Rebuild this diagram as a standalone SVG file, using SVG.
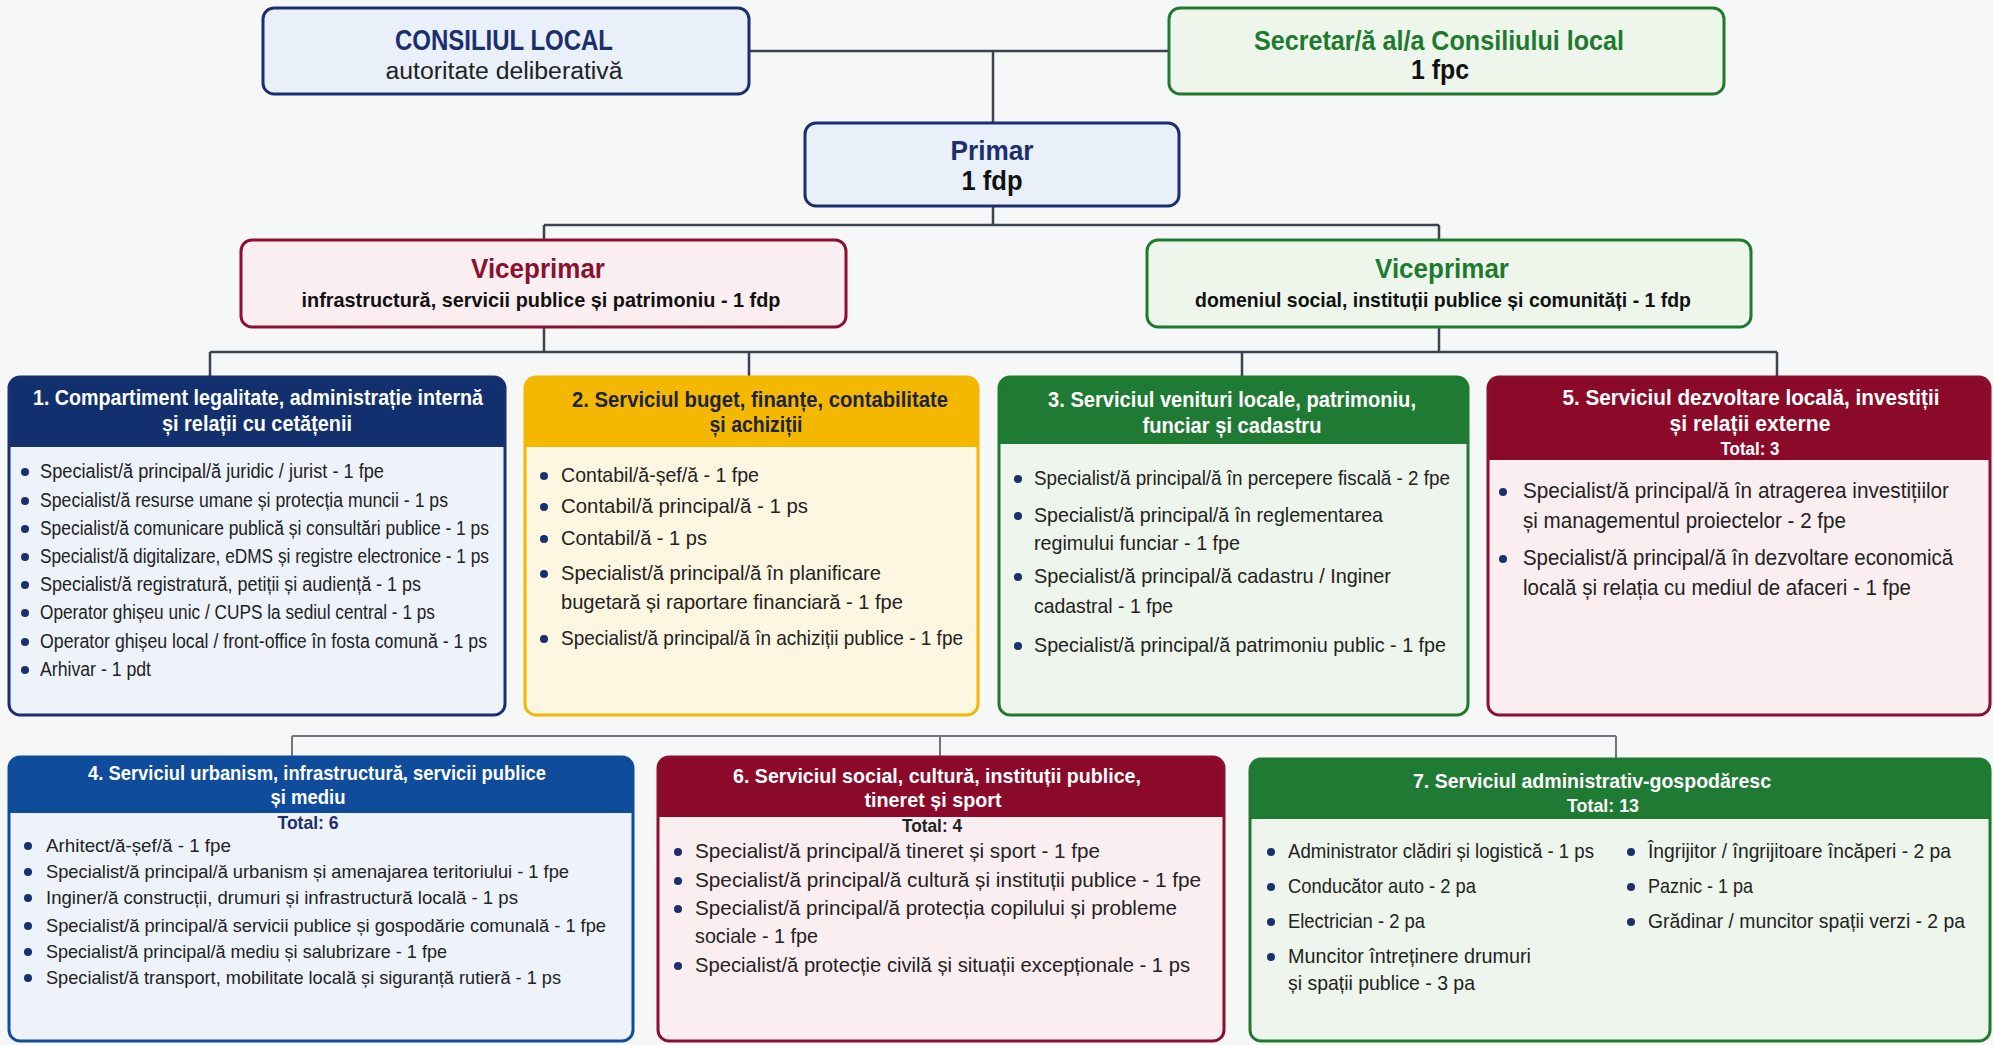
<svg xmlns="http://www.w3.org/2000/svg" width="1993" height="1045" viewBox="0 0 1993 1045">
<style>
text{font-family:"Liberation Sans",Arial,sans-serif;}
.ttl{font-weight:bold;text-anchor:middle;}
.hd{font-weight:bold;text-anchor:middle;font-size:22px;fill:#fff;}
.tot{font-weight:bold;text-anchor:middle;font-size:19px;}
.it{fill:#222;}
.bl{fill:#1b2f6e;}
.con{fill:none;stroke:#3b4250;stroke-width:2.5;}
.con2{fill:none;stroke:#70767f;stroke-width:2;}
.box{stroke-width:3;}
</style>
<rect x="0" y="0" width="1993" height="1045" fill="#f6f7f7"/>

<g id="connectors">
<path class="con" d="M749,51 H1169 M993,51 V123 M993,206 V225 M544,225 H1439 M544,225 V240 M1439,225 V240 M544,327 V352 M1439,327 V352 M210,352 H1777 M210,352 V377 M749,352 V377 M1242,352 V377 M1777,352 V377"/>
<path class="con2" d="M292,736 H1616 M292,736 V757 M940,736 V757 M1616,736 V759"/>
</g>

<g id="consiliul-local">
<rect class="box" x="263" y="8" width="486" height="86" rx="11" fill="#e9f0fa" stroke="#1b2f6e"/>
<text class="ttl" x="504" y="50" font-size="29" fill="#1b2f6e" textLength="218" lengthAdjust="spacingAndGlyphs">CONSILIUL LOCAL</text>
<text x="504" y="79" font-size="23" fill="#222" text-anchor="middle" textLength="237" lengthAdjust="spacingAndGlyphs">autoritate deliberativă</text>
</g>

<g id="secretar">
<rect class="box" x="1169" y="8" width="555" height="86" rx="11" fill="#eef6ec" stroke="#1f7a30"/>
<text class="ttl" x="1439" y="50" font-size="28" fill="#1f7a30" textLength="370" lengthAdjust="spacingAndGlyphs">Secretar/ă al/a Consiliului local</text>
<text class="ttl" x="1440" y="79" font-size="27" fill="#111" textLength="58" lengthAdjust="spacingAndGlyphs">1 fpc</text>
</g>

<g id="primar">
<rect class="box" x="805" y="123" width="374" height="83" rx="11" fill="#e9f0fa" stroke="#1b2f6e"/>
<text class="ttl" x="992" y="160" font-size="28" fill="#1b2f6e" textLength="83" lengthAdjust="spacingAndGlyphs">Primar</text>
<text class="ttl" x="992" y="190" font-size="28" fill="#111" textLength="61" lengthAdjust="spacingAndGlyphs">1 fdp</text>
</g>

<g id="viceprimar-1">
<rect class="box" x="241" y="240" width="605" height="87" rx="11" fill="#fbeef1" stroke="#8b1030"/>
<text class="ttl" x="538" y="278" font-size="28" fill="#8b1030" textLength="134" lengthAdjust="spacingAndGlyphs">Viceprimar</text>
<text class="ttl" x="541" y="307" font-size="21" fill="#111" textLength="479" lengthAdjust="spacingAndGlyphs">infrastructură, servicii publice și patrimoniu - 1 fdp</text>
</g>

<g id="viceprimar-2">
<rect class="box" x="1147" y="240" width="604" height="87" rx="11" fill="#eef6ec" stroke="#1f7a30"/>
<text class="ttl" x="1442" y="278" font-size="28" fill="#1f7a30" textLength="134" lengthAdjust="spacingAndGlyphs">Viceprimar</text>
<text class="ttl" x="1443" y="307" font-size="21" fill="#111" textLength="496" lengthAdjust="spacingAndGlyphs">domeniul social, instituții publice și comunități - 1 fdp</text>
</g>

<g id="s1">
<rect x="9" y="377" width="496" height="338" rx="11" fill="#eef3fb"/>
<path d="M9,447 V388 Q9,377 20,377 H494 Q505,377 505,388 V447 Z" fill="#12306e"/>
<rect class="box" x="9" y="377" width="496" height="338" rx="11" fill="none" stroke="#1b2f6e"/>
<text class="hd" x="258" y="405" textLength="450" lengthAdjust="spacingAndGlyphs">1. Compartiment legalitate, administrație internă</text>
<text class="hd" x="257" y="431" textLength="190" lengthAdjust="spacingAndGlyphs">și relații cu cetățenii</text>
<g class="bl"><circle cx="25" cy="472" r="4"/><circle cx="25" cy="501" r="4"/><circle cx="25" cy="529" r="4"/><circle cx="25" cy="557" r="4"/><circle cx="25" cy="585" r="4"/><circle cx="25" cy="613" r="4"/><circle cx="25" cy="642" r="4"/><circle cx="25" cy="670" r="4"/></g>
<g class="it" font-size="20">
<text x="40" y="478" textLength="344" lengthAdjust="spacingAndGlyphs">Specialist/ă principal/ă juridic / jurist - 1 fpe</text>
<text x="40" y="507" textLength="408" lengthAdjust="spacingAndGlyphs">Specialist/ă resurse umane și protecția muncii - 1 ps</text>
<text x="40" y="535" textLength="449" lengthAdjust="spacingAndGlyphs">Specialist/ă comunicare publică și consultări publice - 1 ps</text>
<text x="40" y="563" textLength="449" lengthAdjust="spacingAndGlyphs">Specialist/ă digitalizare, eDMS și registre electronice - 1 ps</text>
<text x="40" y="591" textLength="381" lengthAdjust="spacingAndGlyphs">Specialist/ă registratură, petiții și audiență - 1 ps</text>
<text x="40" y="619" textLength="395" lengthAdjust="spacingAndGlyphs">Operator ghișeu unic / CUPS la sediul central - 1 ps</text>
<text x="40" y="648" textLength="447" lengthAdjust="spacingAndGlyphs">Operator ghișeu local / front-office în fosta comună - 1 ps</text>
<text x="40" y="676" textLength="111" lengthAdjust="spacingAndGlyphs">Arhivar - 1 pdt</text>
</g>
</g>

<g id="s2">
<rect x="525" y="377" width="453" height="338" rx="11" fill="#fdf6e1"/>
<path d="M525,447 V388 Q525,377 536,377 H967 Q978,377 978,388 V447 Z" fill="#f5b800"/>
<rect class="box" x="525" y="377" width="453" height="338" rx="11" fill="none" stroke="#f2b705"/>
<text class="hd" x="760" y="407" style="fill:#1c2440" textLength="376" lengthAdjust="spacingAndGlyphs">2. Serviciul buget, finanțe, contabilitate</text>
<text class="hd" x="756" y="432" style="fill:#1c2440" textLength="93" lengthAdjust="spacingAndGlyphs">și achiziții</text>
<g class="bl"><circle cx="544" cy="476" r="4"/><circle cx="544" cy="507" r="4"/><circle cx="544" cy="539" r="4"/><circle cx="544" cy="574" r="4"/><circle cx="544" cy="639" r="4"/></g>
<g class="it" font-size="21">
<text x="561" y="482" textLength="198" lengthAdjust="spacingAndGlyphs">Contabil/ă-șef/ă - 1 fpe</text>
<text x="561" y="513" textLength="247" lengthAdjust="spacingAndGlyphs">Contabil/ă principal/ă - 1 ps</text>
<text x="561" y="545" textLength="146" lengthAdjust="spacingAndGlyphs">Contabil/ă - 1 ps</text>
<text x="561" y="580" textLength="320" lengthAdjust="spacingAndGlyphs">Specialist/ă principal/ă în planificare</text>
<text x="561" y="609" textLength="342" lengthAdjust="spacingAndGlyphs">bugetară și raportare financiară - 1 fpe</text>
<text x="561" y="645" textLength="402" lengthAdjust="spacingAndGlyphs">Specialist/ă principal/ă în achiziții publice - 1 fpe</text>
</g>
</g>

<g id="s3">
<rect x="999" y="377" width="469" height="338" rx="11" fill="#eef5ec"/>
<path d="M999,444 V388 Q999,377 1010,377 H1457 Q1468,377 1468,388 V444 Z" fill="#1f7a34"/>
<rect class="box" x="999" y="377" width="469" height="338" rx="11" fill="none" stroke="#1f7a30"/>
<text class="hd" x="1232" y="407" textLength="368" lengthAdjust="spacingAndGlyphs">3. Serviciul venituri locale, patrimoniu,</text>
<text class="hd" x="1232" y="433" textLength="179" lengthAdjust="spacingAndGlyphs">funciar și cadastru</text>
<g class="bl"><circle cx="1018" cy="479" r="4"/><circle cx="1018" cy="516" r="4"/><circle cx="1018" cy="577" r="4"/><circle cx="1018" cy="646" r="4"/></g>
<g class="it" font-size="21">
<text x="1034" y="485" textLength="416" lengthAdjust="spacingAndGlyphs">Specialist/ă principal/ă în percepere fiscală - 2 fpe</text>
<text x="1034" y="522" textLength="349" lengthAdjust="spacingAndGlyphs">Specialist/ă principal/ă în reglementarea</text>
<text x="1034" y="550" textLength="206" lengthAdjust="spacingAndGlyphs">regimului funciar - 1 fpe</text>
<text x="1034" y="583" textLength="357" lengthAdjust="spacingAndGlyphs">Specialist/ă principal/ă cadastru / Inginer</text>
<text x="1034" y="613" textLength="139" lengthAdjust="spacingAndGlyphs">cadastral - 1 fpe</text>
<text x="1034" y="652" textLength="412" lengthAdjust="spacingAndGlyphs">Specialist/ă principal/ă patrimoniu public - 1 fpe</text>
</g>
</g>

<g id="s5">
<rect x="1488" y="377" width="502" height="338" rx="11" fill="#fbeef1"/>
<path d="M1488,460 V388 Q1488,377 1499,377 H1979 Q1990,377 1990,388 V460 Z" fill="#8b0a2a"/>
<rect class="box" x="1488" y="377" width="502" height="338" rx="11" fill="none" stroke="#8b0f2e"/>
<text class="hd" x="1751" y="405" textLength="377" lengthAdjust="spacingAndGlyphs">5. Serviciul dezvoltare locală, investiții</text>
<text class="hd" x="1750" y="431" textLength="161" lengthAdjust="spacingAndGlyphs">și relații externe</text>
<text class="tot" x="1750" y="455" fill="#fff" textLength="59" lengthAdjust="spacingAndGlyphs">Total: 3</text>
<g class="bl"><circle cx="1503" cy="492" r="4"/><circle cx="1503" cy="559" r="4"/></g>
<g class="it" font-size="22">
<text x="1523" y="498" textLength="426" lengthAdjust="spacingAndGlyphs">Specialist/ă principal/ă în atragerea investițiilor</text>
<text x="1523" y="528" textLength="323" lengthAdjust="spacingAndGlyphs">și managementul proiectelor - 2 fpe</text>
<text x="1523" y="565" textLength="430" lengthAdjust="spacingAndGlyphs">Specialist/ă principal/ă în dezvoltare economică</text>
<text x="1523" y="595" textLength="388" lengthAdjust="spacingAndGlyphs">locală și relația cu mediul de afaceri - 1 fpe</text>
</g>
</g>

<g id="s4">
<rect x="9" y="757" width="624" height="284" rx="11" fill="#eef3fb"/>
<path d="M9,813 V768 Q9,757 20,757 H622 Q633,757 633,768 V813 Z" fill="#0f4c9c"/>
<rect class="box" x="9" y="757" width="624" height="284" rx="11" fill="none" stroke="#0f4c9c"/>
<text class="hd" x="317" y="780" style="font-size:21px" textLength="458" lengthAdjust="spacingAndGlyphs">4. Serviciul urbanism, infrastructură, servicii publice</text>
<text class="hd" x="308" y="804" style="font-size:21px" textLength="75" lengthAdjust="spacingAndGlyphs">și mediu</text>
<text class="tot" x="308" y="829" fill="#1b2f6e" textLength="61" lengthAdjust="spacingAndGlyphs">Total: 6</text>
<g class="bl"><circle cx="28" cy="846" r="4"/><circle cx="28" cy="872" r="4"/><circle cx="28" cy="898" r="4"/><circle cx="28" cy="926" r="4"/><circle cx="28" cy="952" r="4"/><circle cx="28" cy="978" r="4"/></g>
<g class="it" font-size="19">
<text x="46" y="852" textLength="185" lengthAdjust="spacingAndGlyphs">Arhitect/ă-șef/ă - 1 fpe</text>
<text x="46" y="878" textLength="523" lengthAdjust="spacingAndGlyphs">Specialist/ă principal/ă urbanism și amenajarea teritoriului - 1 fpe</text>
<text x="46" y="904" textLength="472" lengthAdjust="spacingAndGlyphs">Inginer/ă construcții, drumuri și infrastructură locală - 1 ps</text>
<text x="46" y="932" textLength="560" lengthAdjust="spacingAndGlyphs">Specialist/ă principal/ă servicii publice și gospodărie comunală - 1 fpe</text>
<text x="46" y="958" textLength="401" lengthAdjust="spacingAndGlyphs">Specialist/ă principal/ă mediu și salubrizare - 1 fpe</text>
<text x="46" y="984" textLength="515" lengthAdjust="spacingAndGlyphs">Specialist/ă transport, mobilitate locală și siguranță rutieră - 1 ps</text>
</g>
</g>

<g id="s6">
<rect x="658" y="757" width="566" height="284" rx="11" fill="#fbeef1"/>
<path d="M658,817 V768 Q658,757 669,757 H1213 Q1224,757 1224,768 V817 Z" fill="#8b0a2a"/>
<rect class="box" x="658" y="757" width="566" height="284" rx="11" fill="none" stroke="#8b0f2e"/>
<text class="hd" x="937" y="783" style="font-size:21px" textLength="408" lengthAdjust="spacingAndGlyphs">6. Serviciul social, cultură, instituții publice,</text>
<text class="hd" x="933" y="807" style="font-size:21px" textLength="137" lengthAdjust="spacingAndGlyphs">tineret și sport</text>
<text class="tot" x="932" y="832" fill="#222" textLength="60" lengthAdjust="spacingAndGlyphs">Total: 4</text>
<g class="bl"><circle cx="678" cy="852" r="4"/><circle cx="678" cy="881" r="4"/><circle cx="678" cy="909" r="4"/><circle cx="678" cy="966" r="4"/></g>
<g class="it" font-size="21">
<text x="695" y="858" textLength="405" lengthAdjust="spacingAndGlyphs">Specialist/ă principal/ă tineret și sport - 1 fpe</text>
<text x="695" y="887" textLength="506" lengthAdjust="spacingAndGlyphs">Specialist/ă principal/ă cultură și instituții publice - 1 fpe</text>
<text x="695" y="915" textLength="482" lengthAdjust="spacingAndGlyphs">Specialist/ă principal/ă protecția copilului și probleme</text>
<text x="695" y="943" textLength="123" lengthAdjust="spacingAndGlyphs">sociale - 1 fpe</text>
<text x="695" y="972" textLength="495" lengthAdjust="spacingAndGlyphs">Specialist/ă protecție civilă și situații excepționale - 1 ps</text>
</g>
</g>

<g id="s7">
<rect x="1250" y="759" width="740" height="282" rx="11" fill="#eef5ec"/>
<path d="M1250,819 V770 Q1250,759 1261,759 H1979 Q1990,759 1990,770 V819 Z" fill="#1f7a34"/>
<rect class="box" x="1250" y="759" width="740" height="282" rx="11" fill="none" stroke="#1f7a30"/>
<text class="hd" x="1592" y="788" style="font-size:21px" textLength="358" lengthAdjust="spacingAndGlyphs">7. Serviciul administrativ-gospodăresc</text>
<text class="tot" x="1603" y="812" fill="#fff" textLength="72" lengthAdjust="spacingAndGlyphs">Total: 13</text>
<g class="bl"><circle cx="1271" cy="852" r="4"/><circle cx="1271" cy="887" r="4"/><circle cx="1271" cy="922" r="4"/><circle cx="1271" cy="957" r="4"/><circle cx="1631" cy="852" r="4"/><circle cx="1631" cy="887" r="4"/><circle cx="1631" cy="922" r="4"/></g>
<g class="it" font-size="21">
<text x="1288" y="858" textLength="306" lengthAdjust="spacingAndGlyphs">Administrator clădiri și logistică - 1 ps</text>
<text x="1288" y="893" textLength="188" lengthAdjust="spacingAndGlyphs">Conducător auto - 2 pa</text>
<text x="1288" y="928" textLength="137" lengthAdjust="spacingAndGlyphs">Electrician - 2 pa</text>
<text x="1288" y="963" textLength="243" lengthAdjust="spacingAndGlyphs">Muncitor întreținere drumuri</text>
<text x="1288" y="990" textLength="187" lengthAdjust="spacingAndGlyphs">și spații publice - 3 pa</text>
<text x="1648" y="858" textLength="303" lengthAdjust="spacingAndGlyphs">Îngrijitor / îngrijitoare încăperi - 2 pa</text>
<text x="1648" y="893" textLength="105" lengthAdjust="spacingAndGlyphs">Paznic - 1 pa</text>
<text x="1648" y="928" textLength="317" lengthAdjust="spacingAndGlyphs">Grădinar / muncitor spații verzi - 2 pa</text>
</g>
</g>
</svg>
